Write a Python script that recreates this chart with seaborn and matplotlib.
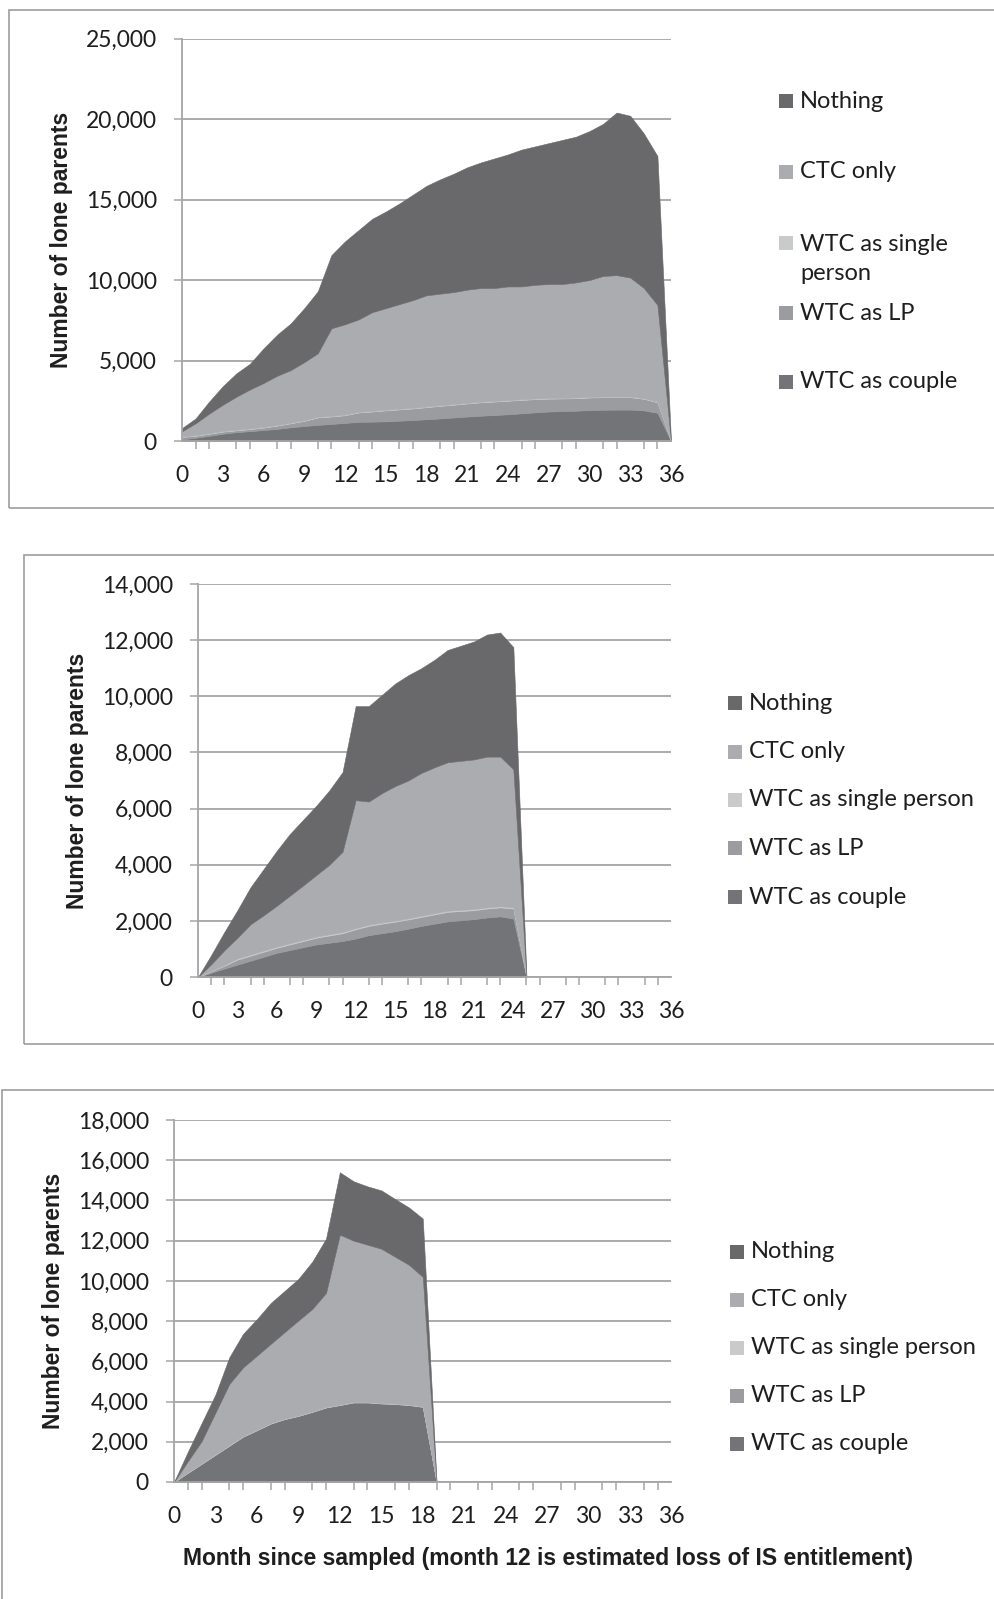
import matplotlib
matplotlib.use("Agg")
import matplotlib.pyplot as plt
from matplotlib.patches import Rectangle
from matplotlib.ticker import MultipleLocator, FuncFormatter
import seaborn as sns

# ---- Data (number of lone parents, by month since sampled) ----
series_names = ["WTC as couple", "WTC as LP", "WTC as single person", "CTC only", "Nothing"]
legend_order = ["Nothing", "CTC only", "WTC as single person", "WTC as LP", "WTC as couple"]

# Panel 1: months 0-36
p1_months = list(range(0, 37))
p1_couple = [100, 200, 320, 450, 550, 610, 680, 750, 850, 930, 1000, 1060, 1120, 1190, 1200,
             1220, 1260, 1300, 1350, 1400, 1460, 1520, 1570, 1610, 1660, 1720, 1780, 1830,
             1860, 1880, 1920, 1940, 1950, 1950, 1900, 1750, 0]
p1_lp = [150, 120, 130, 130, 110, 130, 150, 200, 250, 320, 460, 460, 480, 580, 630, 680, 700,
         720, 750, 780, 790, 810, 830, 840, 840, 830, 820, 800, 780, 780, 780, 780, 770, 770,
         720, 650, 0]
p1_single = [30, 40, 40, 40, 40, 40, 40, 40, 40, 40, 40, 40, 40, 40, 40, 40, 40, 40, 40, 40,
             40, 40, 40, 40, 40, 40, 40, 40, 40, 40, 40, 40, 40, 40, 40, 40, 0]
p1_ctc = [320, 740, 1210, 1630, 2050, 2420, 2730, 3060, 3260, 3610, 3950, 5440, 5610, 5740,
          6130, 6310, 6500, 6690, 6910, 6930, 6960, 7030, 7060, 7010, 7060, 7010, 7060, 7080,
          7070, 7150, 7260, 7490, 7540, 7390, 6840, 6010, 0]
p1_nothing = [200, 300, 750, 1150, 1450, 1600, 2150, 2550, 2900, 3350, 3850, 4550, 5150, 5550,
              5800, 6000, 6250, 6550, 6800, 7100, 7350, 7600, 7800, 8050, 8200, 8500, 8600,
              8750, 8950, 9050, 9250, 9450, 10100, 10050, 9600, 9250, 0]

# Panel 2: months 0-25
p2_months = list(range(0, 26))
p2_couple = [0, 150, 300, 440, 580, 720, 860, 960, 1060, 1160, 1220, 1280, 1370, 1490, 1560,
             1630, 1720, 1820, 1900, 1980, 2020, 2060, 2120, 2160, 2080, 0]
p2_lp = [0, 50, 100, 180, 180, 180, 180, 200, 220, 240, 260, 280, 330, 330, 340, 340, 330, 320,
         330, 340, 330, 320, 320, 320, 360, 0]
p2_single = [0, 20, 30, 40, 40, 40, 40, 40, 40, 40, 40, 40, 40, 40, 40, 40, 40, 40, 40, 40, 40,
             40, 40, 40, 40, 0]
p2_ctc = [0, 230, 520, 740, 1080, 1260, 1460, 1700, 1940, 2190, 2480, 2860, 4560, 4390, 4610,
          4790, 4910, 5090, 5200, 5290, 5310, 5330, 5370, 5330, 4920, 0]
p2_nothing = [0, 330, 650, 980, 1320, 1650, 1960, 2200, 2340, 2470, 2650, 2840, 3350, 3400,
              3500, 3650, 3750, 3730, 3830, 4000, 4100, 4200, 4350, 4420, 4350, 0]

# Panel 3: months 0-19
p3_months = list(range(0, 20))
p3_couple = [0, 450, 900, 1350, 1800, 2250, 2570, 2900, 3120, 3280, 3480, 3700, 3820, 3950,
             3950, 3900, 3870, 3820, 3730, 0]
p3_lp = [0, 10, 10, 10, 10, 10, 10, 10, 10, 10, 10, 10, 10, 10, 10, 10, 10, 10, 10, 0]
p3_single = [0, 20, 20, 20, 20, 20, 20, 20, 20, 20, 20, 20, 20, 20, 20, 20, 20, 20, 20, 0]
p3_ctc = [0, 550, 1100, 2070, 3040, 3420, 3680, 3940, 4300, 4720, 5090, 5670, 8450, 8020, 7820,
          7670, 7300, 6950, 6440, 0]
p3_nothing = [0, 470, 900, 900, 1330, 1670, 1820, 2030, 2050, 2070, 2350, 2700, 3100, 2950,
              2900, 2900, 2870, 2850, 2900, 0]

y_label = "Number of lone parents"
x_label = "Month since sampled (month 12 is estimated loss of IS entitlement)"

# ---- Style ----
sns.set_theme(style="white")
plt.rcParams["font.family"] = ["Lato", "DejaVu Sans"]
BOLD = ["Liberation Sans", "DejaVu Sans"]

palette = sns.color_palette(["#737478", "#9b9c9f", "#c9cacc", "#abacaf", "#69696b"])
colors = dict(zip(series_names, palette))
GRID = "#a5a5a7"
TXT = "#1e1e1e"
W, H = 995, 1599
TICK_FS = 16.5
LEG_FS = 17
LAB_FS = 16.5


def fx(px):
    return px / W


def fy(py):
    return 1 - py / H


def draw_panel(fig, box, axes_px, months, values, ymax, ystep, ylab_x, legend_px, wrap_single=False):
    # panel frame (Excel chart area)
    x0, y0, x1, y1 = box
    fig.add_artist(Rectangle((fx(x0), fy(y1)), fx(x1 - x0), (y1 - y0) / H,
                             transform=fig.transFigure, fill=False, ec="#9d9d9f", lw=1.2))

    left, right, top, bottom = axes_px
    ax = fig.add_axes([fx(left), fy(bottom), fx(right - left), (bottom - top) / H])
    ax.set_axisbelow(True)
    ax.stackplot(months, *values, colors=[colors[n] for n in series_names],
                 edgecolor="face", lw=0.4, zorder=2)

    ax.set_xlim(0, 36)
    ax.set_ylim(0, ymax)
    ax.xaxis.set_major_locator(MultipleLocator(3))
    ax.xaxis.set_minor_locator(MultipleLocator(1))
    ax.yaxis.set_major_locator(MultipleLocator(ystep))
    ax.yaxis.set_major_formatter(FuncFormatter(lambda v, p: f"{int(v):,}"))
    ax.grid(axis="y", color=GRID, lw=1.3)
    ax.grid(axis="x", visible=False)

    sns.despine(ax=ax)
    for s in ["left", "bottom"]:
        ax.spines[s].set_color(GRID)
        ax.spines[s].set_linewidth(1.3)
    ax.tick_params(axis="both", which="both", direction="out", color=GRID, width=1.1,
                   length=6, labelsize=TICK_FS, labelcolor=TXT)
    ax.tick_params(axis="x", which="major", pad=11)
    ax.tick_params(axis="x", which="minor", bottom=True)
    ax.tick_params(axis="y", pad=12, left=True)

    ax.set_ylabel(y_label, fontsize=LAB_FS, fontweight="bold", color=TXT, family=BOLD)
    ax.yaxis.set_label_coords((ylab_x - left) / (right - left), 0.5)

    # legend, reversed stacking order as in Excel
    mx, tx, ys = legend_px
    for name, yc in zip(legend_order, ys):
        fig.add_artist(Rectangle((fx(mx), fy(yc + 7)), 14 / W, 14 / H,
                                 transform=fig.transFigure, color=colors[name], lw=0))
        label = name
        ls = 1.2
        if wrap_single and name == "WTC as single person":
            label = "WTC as single\nperson"
            ls = 1.45
            yc = yc + 16
        fig.text(fx(tx), fy(yc), label, fontsize=LEG_FS, color=TXT, va="center", ha="left",
                 linespacing=ls)
    return ax


fig = plt.figure(figsize=(W / 100, H / 100), dpi=100)

draw_panel(fig, (9, 10, 1010, 508), (182, 671, 38.5, 441), p1_months,
           [p1_couple, p1_lp, p1_single, p1_ctc, p1_nothing], 25000, 5000, 73,
           (779, 800, [101, 172, 243, 313, 382]), wrap_single=True)

draw_panel(fig, (24, 555, 1010, 1044), (198, 671, 584, 977), p2_months,
           [p2_couple, p2_lp, p2_single, p2_ctc, p2_nothing], 14000, 2000, 89,
           (728, 749, [703, 752, 800, 848, 897]))

ax3 = draw_panel(fig, (2, 1090, 1010, 1620), (174, 671.5, 1120, 1482), p3_months,
                 [p3_couple, p3_lp, p3_single, p3_ctc, p3_nothing], 18000, 2000, 65,
                 (730, 751, [1252, 1300, 1348, 1396, 1444]))

fig.text(fx(548), fy(1558), x_label, fontsize=LAB_FS, fontweight="bold", color=TXT,
         family=BOLD, ha="center", va="center")

fig.savefig("out.png", dpi=100, facecolor="white")
